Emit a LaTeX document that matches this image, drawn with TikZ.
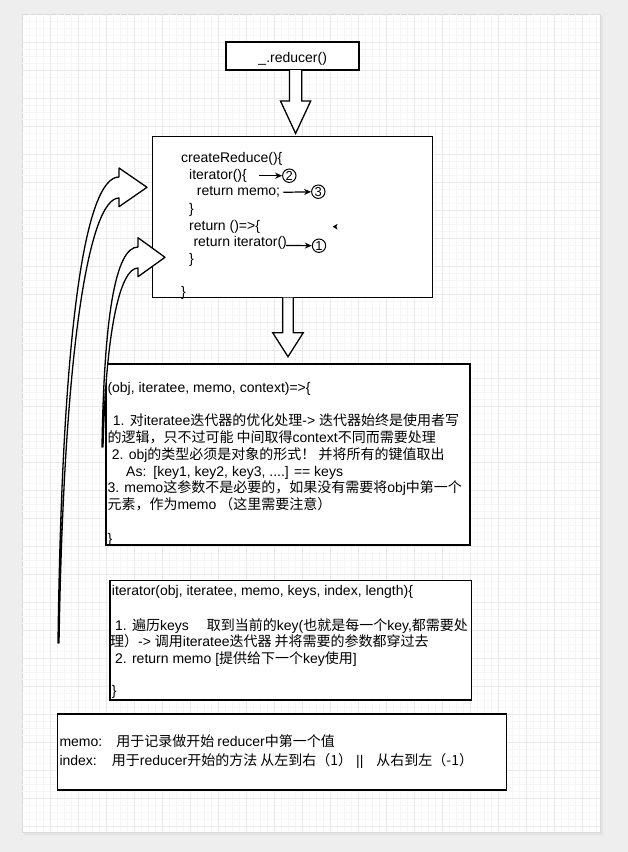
\documentclass[tikz,border=0pt]{standalone}
\usepackage{fontspec}
\setmainfont{Liberation Sans}
\newfontfamily\zhfont{Noto Sans CJK SC}
\newcommand{\zh}[1]{{\zhfont #1}}
\usetikzlibrary{arrows.meta}

\tikzset{
  box/.style={draw, line width=1.3pt, fill=white, anchor=north west, inner sep=0pt, outer sep=0pt},
  txt/.style={anchor=base west, inner sep=0pt, font=\fontsize{14}{17}\selectfont},
  num/.style={circle, draw, line width=1pt, fill=white, minimum size=13.4pt, inner sep=0pt, font=\fontsize{13}{13}\selectfont},
  ptr/.style={line width=1.2pt, -{Stealth[length=7pt,width=6pt]}},
  block/.style={draw, line width=1.3pt, fill=white, line join=miter},
  gridminor/.style={draw=gray!7, line width=0.6pt},
  gridmajor/.style={draw=gray!17, line width=0.8pt}
}

\begin{document}
\begin{tikzpicture}[x=1pt, y=-1pt]
\useasboundingbox (0,0) rectangle (628,852);
% page and grid
\fill[gray!13] (0,0) rectangle (628,852);
\fill[gray!22] (24,16) rectangle (603,835);
\filldraw[fill=white, draw=gray!30] (22,14) rectangle (600,832);
\foreach \gx in {29,36,...,599} \draw[gridminor] (\gx,14) -- (\gx,832);
\foreach \gy in {21,28,...,831} \draw[gridminor] (22,\gy) -- (600,\gy);
\foreach \gx in {50,78,...,599} \draw[gridmajor] (\gx,14) -- (\gx,832);
\foreach \gy in {42,70,...,831} \draw[gridmajor] (22,\gy) -- (600,\gy);

% boxes
\node[box, minimum width=133pt, minimum height=28pt] (reducer) at (226,42) {};
\node[box, minimum width=280pt, minimum height=161pt] (create) at (152.7,136.7) {};
\node[box, minimum width=364pt, minimum height=181pt] (wrap) at (106,364) {};
\node[box, minimum width=361.7pt, minimum height=119.5pt] (iter) at (110,580.5) {};
\node[box, minimum width=449.4pt, minimum height=76pt] (note) at (57.3,714) {};

\node[txt, anchor=base] (rtitle) at (292.7,62.3) {\_.reducer()};

% createReduce
\node[txt] (c1) at (181,162.3) {createReduce()\{};
\node[txt] (c2) at (189,179) {iterator()\{};
\node[txt] (c3) at (196.7,195.7) {return memo;};
\node[txt] (c4) at (189,213) {\}};
\node[txt] (c5) at (189,230) {return ()=>\{};
\node[txt] (c6) at (193.3,246.7) {return iterator()};
\node[txt] (c7) at (189,263) {\}};
\node[txt] (c8) at (181,296.7) {\}};

\node[num] (n2) at (289.3,175.7) {2};
\node[num] (n3) at (318.3,191.7) {3};
\node[num] (n1) at (319,245.7) {1};
\coordinate (s2) at (259.3,175.7);
\coordinate (s3) at (283.3,192.3);
\coordinate (s1) at (286,245.5);
\draw[ptr] (s2) -- (n2);
\draw[ptr] (s3) -- (n3);
\draw[ptr] (s1) -- (n1);
\fill (332.7,226.7) -- (337.6,223.8) -- (336.4,226.7) -- (337.6,229.6) -- cycle;

% wrapper
\node[txt] (w1) at (107.3,392.3) {(obj, iteratee, memo, context)=>\{};
\node[txt] (w2) at (112.7,425.7) {1. \zh{对}iteratee\zh{迭代器的优化处理}-> \zh{迭代器始终是使用者写}};
\node[txt] (w3) at (107.3,442.3) {\zh{的逻辑，只不过可能 中间取得}context\zh{不同而需要处理}};
\node[txt] (w4) at (111.7,459) {2. obj\zh{的类型必须是对象的形式！ 并将所有的键值取出}};
\node[txt] (w5) at (126,476) {As:\hspace{7pt}[key1, key2, key3, ....] == keys};
\node[txt] (w6) at (107.3,492.3) {3. memo\zh{这参数不是必要的，如果没有需要将}obj\zh{中第一个}};
\node[txt] (w7) at (107.3,509) {\zh{元素，作为}memo\hspace{3pt}\zh{（这里需要注意）}};
\node[txt] (w8) at (107.3,543.3) {\}};

% iterator
\node[txt] (i1) at (111.7,595.7) {iterator(obj, iteratee, memo, keys, index, length)\{};
\node[txt] (i2) at (115,630) {1. \zh{遍历}keys\hspace{18pt}\zh{取到当前的}key(\zh{也就是每一个}key,\zh{都需要处}};
\node[txt] (i3) at (110,646.7) {\zh{理）}-> \zh{调用}iteratee\zh{迭代器 并将需要的参数都穿过去}};
\node[txt] (i4) at (115,663.3) {2. return memo [\zh{提供给下一个}key\zh{使用}]};
\node[txt] (i5) at (111.7,695) {\}};

% notes
\node[txt] (m1) at (59.3,746.7) {memo:\hspace{14pt}\zh{用于记录做开始 }reducer\zh{中第一个值}};
\node[txt] (m2) at (59.3,765) {index:\hspace{15pt}\zh{用于}reducer\zh{开始的方法 从左到右（1）} ||\hspace{13pt}\zh{从右到左（-1）}};

% block arrows
\draw[block] (289.5,70) -- (289.5,101) -- (280.5,101) -- (295.6,133.4) -- (310.7,101) -- (301.7,101) -- (301.7,70);
\draw[block] (282.7,297.7) -- (282.7,332.7) -- (272.7,332.7) -- (288,356.7) -- (303.3,332.7) -- (293.3,332.7) -- (293.3,297.7);

% curved arrows
\draw[block, line join=round] (58,643) .. controls (62,330) and (85,177) .. (119,177) -- (119,168) -- (147,187.3)
  -- (119,206.7) -- (119,198) .. controls (90,198) and (64,340) .. (59,643) -- cycle;
\draw[block, line join=round] (102,447) .. controls (104,320) and (115,247) .. (138,247) -- (138,237.7) -- (165,257.3)
  -- (138,276.7) -- (138,268) .. controls (120,268) and (106,330) .. (103,447) -- cycle;
\end{tikzpicture}
\end{document}
